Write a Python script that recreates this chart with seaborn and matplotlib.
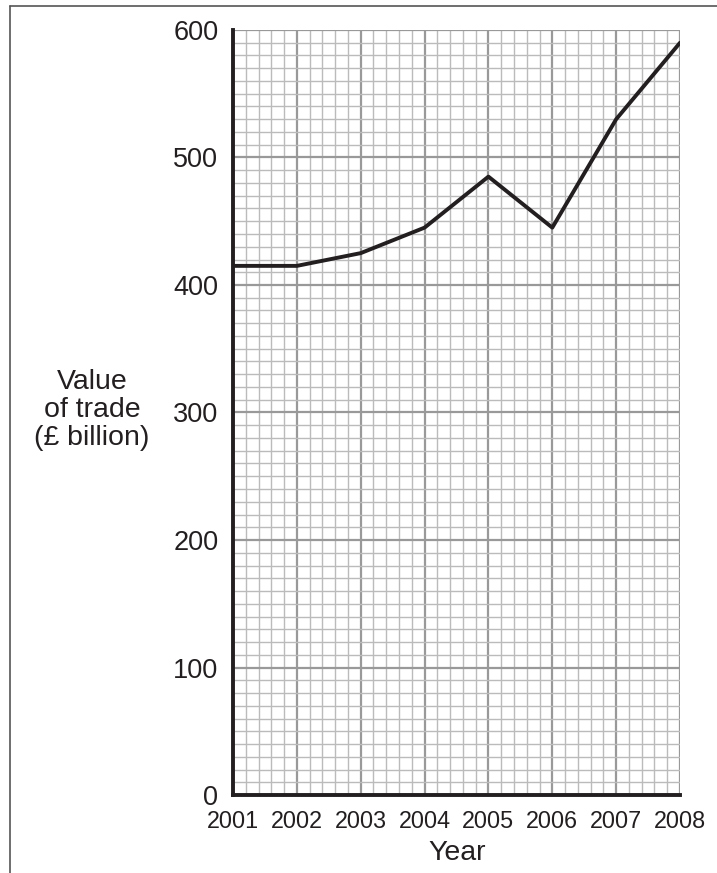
import matplotlib
matplotlib.use("Agg")
import matplotlib.pyplot as plt
import seaborn as sns
import pandas as pd
import numpy as np
from matplotlib.lines import Line2D

years = [2001, 2002, 2003, 2004, 2005, 2006, 2007, 2008]
trade_value = [415, 415, 425, 445, 485, 445, 530, 590]
y_ticks = [0, 100, 200, 300, 400, 500, 600]

sns.set_style("white")
plt.rcParams['font.family'] = ['Liberation Sans', 'DejaVu Sans']

df = pd.DataFrame({'Year': years, 'Value': trade_value})

fig = plt.figure(figsize=(7.17, 8.73), dpi=100)
ax = fig.add_axes([233 / 717, 1 - 795 / 873, 447 / 717, 765 / 873])

# graph paper grid
ax.set_xticks(np.arange(2001, 2008.01, 0.2), minor=True)
ax.set_yticks(np.arange(0, 601, 10), minor=True)
ax.grid(which='minor', color='#bbbbbb', linewidth=1.0)
ax.grid(which='major', color='#999999', linewidth=1.6)
ax.set_axisbelow(True)

sns.lineplot(data=df, x='Year', y='Value', ax=ax, color='#231f20',
             linewidth=2.8, zorder=5)

ax.set_xlim(2001, 2008)
ax.set_ylim(0, 600)
ax.set_xticks(years)
ax.set_xticklabels([str(y) for y in years], fontsize=16.8)
ax.set_yticks(y_ticks)
ax.set_yticklabels([str(v) for v in y_ticks], fontsize=19.5)
ax.tick_params(which='major', direction='out', length=7, width=1.0,
               color='#231f20', labelcolor='#231f20')
ax.tick_params(axis='y', pad=3.5)
ax.tick_params(axis='x', pad=3.5)
ax.tick_params(which='minor', length=0)

for side in ['top', 'right']:
    ax.spines[side].set_visible(False)
for side in ['left', 'bottom']:
    ax.spines[side].set_color('#231f20')
    ax.spines[side].set_linewidth(2.8)
    ax.spines[side].set_zorder(6)

ax.set_xlabel('')
ax.set_ylabel('')
fig.text(457 / 717, 1 - 853 / 873, 'Year', ha='center', va='center',
         fontsize=20.5, color='#231f20')
fig.text(92 / 717, 1 - 410 / 873, 'Value\nof trade\n(£ billion)',
         ha='center', va='center', fontsize=20.5, color='#231f20',
         linespacing=1.12)

# page border lines
fig.add_artist(Line2D([10 / 717, 10 / 717], [0, 1 - 6 / 873],
                      color='#555555', linewidth=1.2))
fig.add_artist(Line2D([10 / 717, 1], [1 - 6 / 873, 1 - 6 / 873],
                      color='#555555', linewidth=1.2))

fig.savefig('out.png', dpi=100)
